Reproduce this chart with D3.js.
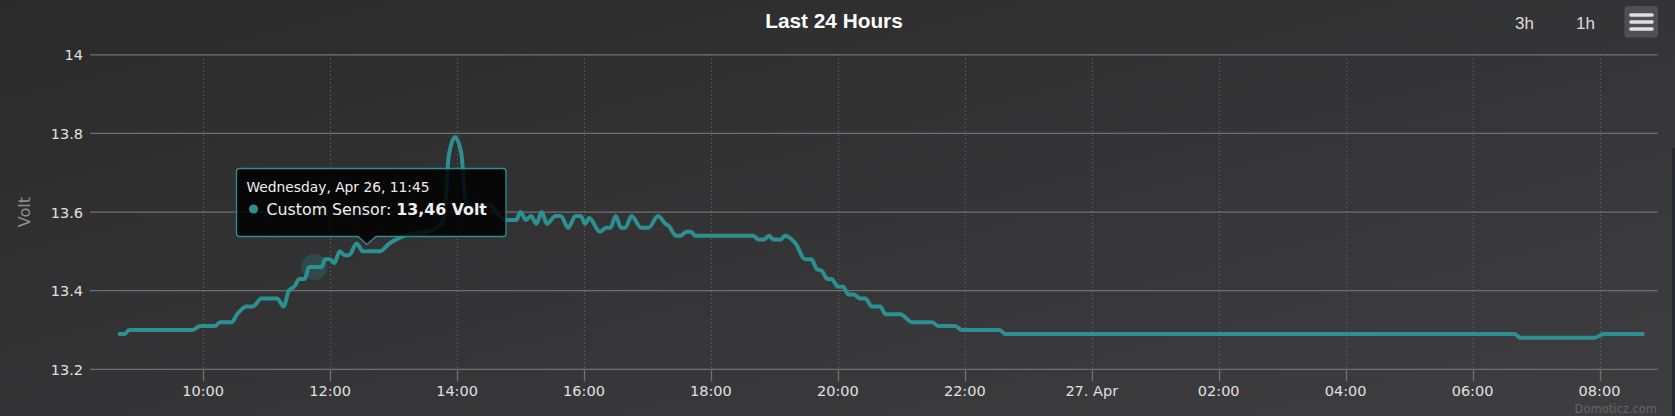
<!DOCTYPE html>
<html><head><meta charset="utf-8">
<script src="https://cdn.jsdelivr.net/npm/d3@7"></script>
<style>body{margin:0;background:#2a2a2b;overflow:hidden}</style>
</head><body><svg id="c" width="1675" height="416"></svg>
<script>
// ---- data ----
const times = [
"2023-04-26T08:41","2023-04-26T08:46","2023-04-26T08:50","2023-04-26T09:50","2023-04-26T09:57",
"2023-04-26T10:11","2023-04-26T10:16","2023-04-26T10:27","2023-04-26T10:32","2023-04-26T10:41",
"2023-04-26T10:47","2023-04-26T10:55","2023-04-26T11:10","2023-04-26T11:16","2023-04-26T11:21",
"2023-04-26T11:26","2023-04-26T11:31","2023-04-26T11:36","2023-04-26T11:40","2023-04-26T11:45",
"2023-04-26T11:52","2023-04-26T11:55","2023-04-26T12:00","2023-04-26T12:04","2023-04-26T12:09",
"2023-04-26T12:14","2023-04-26T12:18","2023-04-26T12:25","2023-04-26T12:31","2023-04-26T12:47",
"2023-04-26T12:56","2023-04-26T13:06","2023-04-26T13:18","2023-04-26T13:31","2023-04-26T13:41",
"2023-04-26T13:48","2023-04-26T13:52","2023-04-26T13:58","2023-04-26T14:04","2023-04-26T14:08",
"2023-04-26T14:15","2023-04-26T14:30","2023-04-26T14:37","2023-04-26T14:46","2023-04-26T14:56",
"2023-04-26T15:00","2023-04-26T15:05","2023-04-26T15:10","2023-04-26T15:15","2023-04-26T15:20",
"2023-04-26T15:25","2023-04-26T15:33","2023-04-26T15:38","2023-04-26T15:45","2023-04-26T15:52",
"2023-04-26T15:57","2023-04-26T16:01","2023-04-26T16:05","2023-04-26T16:15","2023-04-26T16:21",
"2023-04-26T16:25","2023-04-26T16:30","2023-04-26T16:35","2023-04-26T16:39","2023-04-26T16:45",
"2023-04-26T16:54","2023-04-26T17:01","2023-04-26T17:10","2023-04-26T17:17","2023-04-26T17:20",
"2023-04-26T17:27","2023-04-26T17:31","2023-04-26T17:37","2023-04-26T17:41","2023-04-26T17:45",
"2023-04-26T18:40","2023-04-26T18:45","2023-04-26T18:50","2023-04-26T18:55","2023-04-26T18:59",
"2023-04-26T19:06","2023-04-26T19:10","2023-04-26T19:20","2023-04-26T19:29","2023-04-26T19:35",
"2023-04-26T19:40","2023-04-26T19:45","2023-04-26T19:50","2023-04-26T19:54","2023-04-26T20:00",
"2023-04-26T20:05","2023-04-26T20:10","2023-04-26T20:15","2023-04-26T20:21","2023-04-26T20:26",
"2023-04-26T20:32","2023-04-26T20:40","2023-04-26T20:45","2023-04-26T20:59","2023-04-26T21:10",
"2023-04-26T21:29","2023-04-26T21:35","2023-04-26T21:51","2023-04-26T21:57","2023-04-26T22:33",
"2023-04-26T22:38","2023-04-27T06:40","2023-04-27T06:45","2023-04-27T07:55","2023-04-27T08:04",
"2023-04-27T08:41"
];
const values = [
13.29,13.29,13.30,13.30,13.31,
13.31,13.32,13.32,13.34,13.36,
13.36,13.38,13.38,13.36,13.40,
13.41,13.43,13.43,13.46,13.46,
13.46,13.48,13.48,13.47,13.50,
13.49,13.49,13.52,13.50,13.50,
13.52,13.535,13.545,13.55,13.56,
13.59,13.74,13.79,13.75,13.63,
13.61,13.62,13.60,13.58,13.58,
13.60,13.58,13.59,13.57,13.60,
13.57,13.59,13.59,13.56,13.59,
13.59,13.57,13.585,13.55,13.56,
13.56,13.59,13.56,13.56,13.59,
13.56,13.56,13.59,13.57,13.565,
13.54,13.54,13.55,13.55,13.54,
13.54,13.53,13.53,13.54,13.53,
13.53,13.54,13.52,13.48,13.48,
13.455,13.45,13.43,13.43,13.41,
13.41,13.39,13.39,13.38,13.38,
13.36,13.36,13.34,13.34,13.32,
13.32,13.31,13.31,13.30,13.30,
13.29,13.29,13.28,13.28,13.29,
13.29
];
const xTickTimes = ["2023-04-26T10:00","2023-04-26T12:00","2023-04-26T14:00","2023-04-26T16:00",
"2023-04-26T18:00","2023-04-26T20:00","2023-04-26T22:00","2023-04-27T00:00","2023-04-27T02:00",
"2023-04-27T04:00","2023-04-27T06:00","2023-04-27T08:00"];
const xTickLabels = ["10:00","12:00","14:00","16:00","18:00","20:00","22:00","27. Apr","02:00","04:00","06:00","08:00"];
const yTicks = [13.2,13.4,13.6,13.8,14];
const yTickLabels = ["13.2","13.4","13.6","13.8","14"];
const xDomain = ["2023-04-26T08:13","2023-04-27T08:55"];
const titleText = "Last 24 Hours";
const seriesName = "Custom Sensor";
const unitName = "Volt";
const hoverTime = "2023-04-26T11:45";
const tooltipHeader = "Wednesday, Apr 26, 11:45";
const rangeButtons = ["3h","1h"];

// ---- drawing ----
const parse = d3.timeParse("%Y-%m-%dT%H:%M");
const data = times.map((t,i)=>({t:parse(t), v:values[i]}));
const W=1675,H=416;
const L=90,R=1657.7,T=54.8,B=369.3;
const color="#2b908f";
const svg=d3.select("#c");
const defs=svg.append("defs");
const g=defs.append("linearGradient").attr("id","bg").attr("x1",0).attr("y1",0).attr("x2",1).attr("y2",1);
g.append("stop").attr("offset",0).attr("stop-color","#2a2a2b");
g.append("stop").attr("offset",1).attr("stop-color","#3e3e40");
svg.append("rect").attr("width",W).attr("height",H).attr("fill","url(#bg)");
svg.append("rect").attr("x",1672).attr("y",148).attr("width",3).attr("height",268).attr("fill","#26262e");

const x=d3.scaleTime().domain(xDomain.map(parse)).range([L,R]);
const y=d3.scaleLinear().domain([13.2,14]).range([B,T]);
const axisFont="'DejaVu Sans', Verdana, sans-serif";

// vertical dotted grid
const xt=xTickTimes.map(parse);
svg.append("g").selectAll("line").data(xt).join("line")
  .attr("x1",d=>Math.round(x(d))+0.5).attr("x2",d=>Math.round(x(d))+0.5)
  .attr("y1",T).attr("y2",B)
  .attr("stroke","#707073").attr("stroke-width",1).attr("stroke-dasharray","1,3");
// horizontal grid
svg.append("g").selectAll("line").data(yTicks).join("line")
  .attr("x1",L).attr("x2",R)
  .attr("y1",d=>y(d)).attr("y2",d=>y(d))
  .attr("stroke","#707073").attr("stroke-width",1.3);
// x ticks
svg.append("g").selectAll("line").data(xt).join("line")
  .attr("x1",d=>Math.round(x(d))+0.5).attr("x2",d=>Math.round(x(d))+0.5)
  .attr("y1",B).attr("y2",B+12)
  .attr("stroke","#707073").attr("stroke-width",1.3);
// x labels
svg.append("g").selectAll("text").data(xt).join("text")
  .attr("x",d=>x(d)).attr("y",396).attr("text-anchor","middle")
  .attr("font-family",axisFont).attr("font-size","14.5px").attr("fill","#E0E0E3")
  .text((d,i)=>xTickLabels[i]);
// y labels
svg.append("g").selectAll("text").data(yTicks).join("text")
  .attr("x",83).attr("y",d=>y(d)+5.5).attr("text-anchor","end")
  .attr("font-family",axisFont).attr("font-size","14.5px").attr("fill","#E0E0E3")
  .text((d,i)=>yTickLabels[i]);
// y title
svg.append("text").attr("transform",`translate(30,${(T+B)/2}) rotate(-90)`)
  .attr("text-anchor","middle").attr("font-family",axisFont).attr("font-size","16px")
  .attr("fill","#909093").text(unitName);

// line
const line=d3.line().x(d=>x(d.t)).y(d=>y(d.v)).curve(d3.curveMonotoneX);
svg.append("path").datum(data).attr("d",line).attr("fill","none")
  .attr("stroke",color).attr("stroke-width",4).attr("stroke-linejoin","round").attr("stroke-linecap","round");

// hover halo
const hp=data.find(d=>+d.t===+parse(hoverTime));
svg.append("circle").attr("cx",x(hp.t)).attr("cy",y(hp.v)).attr("r",13)
  .attr("fill",color).attr("opacity",0.25);

// title
svg.append("text").attr("x",834).attr("y",28).attr("text-anchor","middle")
  .attr("font-family","'Liberation Sans', Arial, sans-serif").attr("font-weight","bold")
  .attr("font-size","20.8px").attr("fill","#FFFFFF").text(titleText);

// range buttons
const bx=[1524.5,1585.5];
svg.append("g").selectAll("text").data(rangeButtons).join("text")
  .attr("x",(d,i)=>bx[i]).attr("y",28.5).attr("text-anchor","middle")
  .attr("font-family","'Liberation Sans', Arial, sans-serif").attr("font-size","17px")
  .attr("fill","#DDDDDD").text(d=>d);
// menu button
svg.append("rect").attr("x",1624.5).attr("y",6).attr("width",33.5).attr("height",31.5).attr("rx",3)
  .attr("fill","#505053");
[15,22,29].forEach(yy=>{
  svg.append("line").attr("x1",1631).attr("x2",1652).attr("y1",yy).attr("y2",yy)
    .attr("stroke","#E0E0E3").attr("stroke-width",3.6).attr("stroke-linecap","round");
});

// credits
svg.append("text").attr("x",1657).attr("y",413).attr("text-anchor","end")
  .attr("font-family",axisFont).attr("font-size","11.5px").attr("fill","#666").text("Domoticz.com");

// tooltip
const tx=236.5,ty=168.5,tw=269.5,th=68,ax=367,ah=8;
const tp=`M${tx+3},${ty} H${tx+tw-3} Q${tx+tw},${ty} ${tx+tw},${ty+3} V${ty+th-3} Q${tx+tw},${ty+th} ${tx+tw-3},${ty+th}
 H${ax+9} L${ax},${ty+th+ah} L${ax-9},${ty+th} H${tx+3} Q${tx},${ty+th} ${tx},${ty+th-3} V${ty+3} Q${tx},${ty} ${tx+3},${ty} Z`;
svg.append("path").attr("d",tp).attr("fill","rgba(0,0,0,0.85)").attr("stroke",color).attr("stroke-width",1.3);
svg.append("text").attr("x",246.5).attr("y",192).attr("font-family",axisFont).attr("font-size","13.8px")
  .attr("fill","#F0F0F0").text(tooltipHeader);
svg.append("circle").attr("cx",253.5).attr("cy",209).attr("r",4.6).attr("fill",color);
const t2=svg.append("text").attr("x",266.5).attr("y",214.5).attr("font-family",axisFont).attr("font-size","15.8px")
  .attr("fill","#F0F0F0");
t2.append("tspan").text(seriesName+": ");
t2.append("tspan").attr("font-weight","bold").text(d3.format(".2f")(hp.v).replace(".",",")+" "+unitName);
</script>
</body></html>
